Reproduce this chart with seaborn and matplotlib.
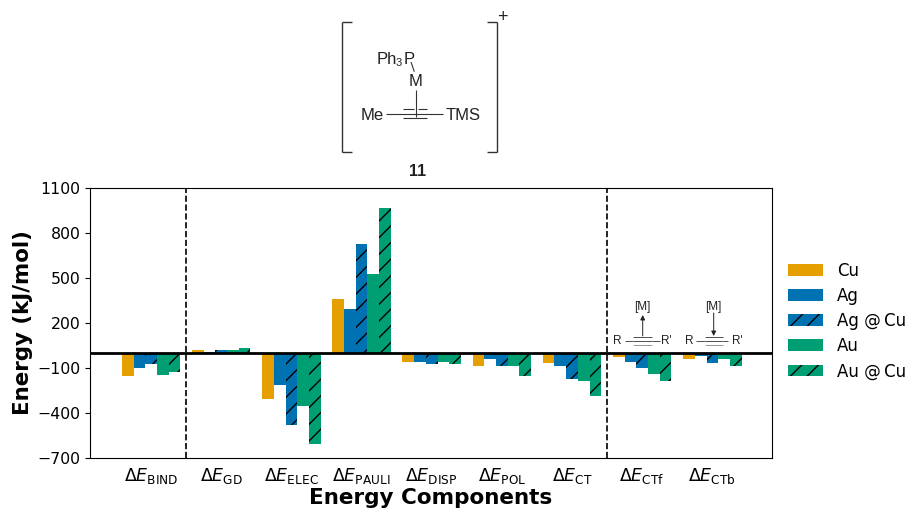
import matplotlib
matplotlib.use("Agg")
import matplotlib.pyplot as plt
from matplotlib.lines import Line2D
from matplotlib.patches import FancyArrowPatch
import pandas as pd
import seaborn as sns

components = [r"$\Delta E_{\mathrm{BIND}}$", r"$\Delta E_{\mathrm{GD}}$", r"$\Delta E_{\mathrm{ELEC}}$",
              r"$\Delta E_{\mathrm{PAULI}}$", r"$\Delta E_{\mathrm{DISP}}$", r"$\Delta E_{\mathrm{POL}}$",
              r"$\Delta E_{\mathrm{CT}}$", r"$\Delta E_{\mathrm{CTf}}$", r"$\Delta E_{\mathrm{CTb}}$"]
metals = ["Cu", "Ag", "Ag @\u2009Cu", "Au", "Au @\u2009Cu"]
cu = [-153, 18, -304, 360, -62, -87, -64, -24, -38]
ag = [-102, 8, -215, 293, -58, -42, -87, -60, -22]
ag_cu = [-73, 20, -482, 724, -71, -84, -171, -100, -64]
au = [-147, 22, -351, 524, -60, -84, -189, -140, -42]
au_cu = [-127, 33, -609, 965, -71, -155, -289, -187, -87]
colors = ["#E69F00", "#0072B2", "#0072B2", "#009E73", "#009E73"]
yticks = [-700, -400, -100, 200, 500, 800, 1100]

W, H = 908, 508
fig = plt.figure(figsize=(W / 100, H / 100), dpi=100)
ax = fig.add_axes([90 / W, (H - 458) / H, 682 / W, 270 / H])

rows = []
for m, vals in zip(metals, [cu, ag, ag_cu, au, au_cu]):
    rows += [{"component": c, "metal": m, "energy": v} for c, v in zip(components, vals)]
df = pd.DataFrame(rows)

sns.barplot(data=df, x="component", y="energy", hue="metal", order=components, hue_order=metals,
            palette=colors, saturation=1, width=5 / 6, gap=0, errorbar=None, legend=False, ax=ax)

handles = []
for i, cont in enumerate(ax.containers):
    for p in cont.patches:
        p.set_linewidth(0)
        p.set_edgecolor("black")
        if i in (2, 4):
            p.set_hatch("//")
    handles.append(cont.patches[0])

ax.axhline(0, color="black", lw=2, zorder=5)
ax.axvline(0.5, color="black", lw=1.2, ls="--", zorder=5)
ax.axvline(6.5, color="black", lw=1.2, ls="--", zorder=5)
ax.set_xlim(-0.87, 8.85)
ax.set_ylim(-700, 1100)
ax.set_yticks(yticks)
ax.tick_params(axis="y", labelsize=11.3, length=3.5)
ax.tick_params(axis="x", labelsize=12.5, length=0, pad=6)
ax.set_xlabel("Energy Components", fontsize=15.5, fontweight="bold")
ax.set_ylabel("Energy (kJ/mol)", fontsize=15.4, fontweight="bold")
ax.xaxis.set_label_coords(0.5, -(488 - 458) / 270)
ax.yaxis.set_label_coords(-(90 - 33) / 682, 0.5)

fig.legend(handles=handles, labels=metals, frameon=False, fontsize=12, loc="center left",
           bbox_to_anchor=(788 / W, (H - 321) / H), handlelength=2.1, handleheight=0.72,
           labelspacing=0.43, handletextpad=0.85, borderpad=0, borderaxespad=0)

def fx(x):
    return x / W

def fy(y):
    return (H - y) / H

INK = "#333333"

def seg(x0, y0, x1, y1, lw=0.8, color=INK):
    fig.add_artist(Line2D([fx(x0), fx(x1)], [fy(y0), fy(y1)], lw=lw, color=color, solid_capstyle="butt"))

def label(x, y, s, size=12, ha="center", **kw):
    fig.text(fx(x), fy(y), s, fontsize=size, ha=ha, va="center", family="Liberation Sans", color="#222222", **kw)

# Structure 11
for xs in [(352, 342), (486.7, 496.7)]:
    seg(xs[0], 21.7, xs[1], 21.7, lw=1)
    seg(xs[1], 21.7, xs[1], 152, lw=1)
    seg(xs[1], 152, xs[0], 152, lw=1)
label(502, 18, "+", size=13)
label(376.7, 59, "Ph", ha="left")
label(396, 62.5, "3", size=8, ha="left")
label(404, 59, "P", ha="left")
label(415.7, 81, "M")
label(371.7, 115, "Me")
label(463.3, 115, "TMS")
seg(411, 62, 414.3, 71.7)
seg(415.7, 90, 415.7, 116.7)
seg(385.7, 114, 443.3, 114)
seg(402.7, 109.3, 413.5, 109.3)
seg(418, 109.3, 427.3, 109.3)
seg(402.7, 118.3, 427.3, 118.3)
label(418, 171, "11", size=11.5, fontweight="bold")

# Alkyne insets
for x_r, x0, x1, x_t0, x_t1, x_a, x_rp, up in [(617.7, 624.5, 660, 633, 652, 642.7, 666.5, True),
                                                (689, 695.7, 728, 704.7, 722.7, 713.7, 737, False)]:
    label(x_r, 341, "R", size=8.5)
    label(x_rp, 341, "R'", size=8.5)
    seg(x0, 341, x_t0, 341, lw=0.6)
    seg(x_t1, 341, x1, 341, lw=0.6)
    for yy, c in [(337.3, INK), (341, INK), (344.7, "#888888")]:
        seg(x_t0, yy, x_t1, yy, lw=0.6, color=c)
    label(x_a, 306.7, "[M]", size=8.5)
    start, end = (336, 315) if up else (313, 336)
    fig.add_artist(FancyArrowPatch(
        (fx(x_a), fy(start)), (fx(x_a), fy(end)), transform=fig.transFigure,
        arrowstyle="-|>", mutation_scale=7, lw=0.7, color="#222222", shrinkA=0, shrinkB=0))

fig.savefig("out.png", dpi=100)
